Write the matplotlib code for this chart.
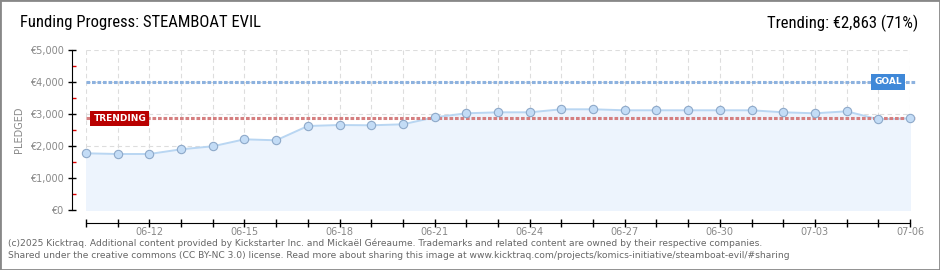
import matplotlib.pyplot as plt
import matplotlib.ticker as mticker
from matplotlib import font_manager
from matplotlib.patches import Rectangle
import pandas as pd

# eje x: un punto por dia
days = pd.date_range('2025-06-10', '2025-07-06', freq='D')
pledged = [1772, 1750, 1750, 1897, 1991, 2209, 2178, 2625, 2656, 2647,
           2678, 2897, 3022, 3053, 3053, 3147, 3147, 3116, 3116, 3116,
           3116, 3116, 3053, 3022, 3084, 2834, 2866]
goal = 4000
trending = 2863
y_ticks = [0, 1000, 2000, 3000, 4000, 5000]

# fuente estrecha para el titulo, si hay alguna
installed = {f.name for f in font_manager.fontManager.ttflist}
narrow = [n for n in ['Roboto Condensed', 'Liberation Sans Narrow', 'DejaVu Sans Condensed',
                      'Open Sans Condensed', 'Roboto'] if n in installed]
title_font = narrow[:1] + ['DejaVu Sans']

fig = plt.figure(figsize=(9.4, 2.7), dpi=100)
ax = fig.add_axes([86 / 940, 1 - 210 / 270, 824 / 940, 160 / 270])

x = list(range(len(days)))
ax.fill_between(x, pledged, 0, color='#edf4fd', zorder=1)
ax.plot(x, pledged, color='#b9d6f2', lw=1.4, zorder=3)
ax.plot(x, pledged, 'o', ms=6, mfc='#c3dcf6', mec='#8ea9c9', mew=0.8,
        zorder=5, clip_on=False)

# meta y tendencia
ax.plot([x[0], x[-1] + 0.15], [goal, goal], color='#8db2df', lw=2.2,
        ls=(0, (1.2, 0.6)), zorder=4, clip_on=False)
ax.plot([x[0], x[-1] + 0.15], [trending, trending], color='#d57f80', lw=2.2,
        ls=(0, (1.2, 0.6)), zorder=4, clip_on=False)
ax.text(1.07, trending, 'TRENDING', color='white', fontsize=6.5,
        fontweight='bold', ha='center', va='center', zorder=6,
        bbox=dict(boxstyle='square,pad=0.35', fc='#b90000', ec='none'))
ax.text(25.3, goal, 'GOAL', color='white', fontsize=6.5, fontweight='bold',
        ha='center', va='center', zorder=6,
        bbox=dict(boxstyle='square,pad=0.35', fc='#3f88d8', ec='none'))

ax.set_xlim(0, len(days) - 1)
ax.set_ylim(0, 5000)
ax.set_xticks(x)
ax.set_xticklabels([d.strftime('%m-%d') if i % 3 == 2 else ''
                    for i, d in enumerate(days)])
ax.set_yticks(y_ticks)
ax.yaxis.set_major_formatter(mticker.FuncFormatter(lambda v, p: '€{:,.0f}'.format(v)))
ax.yaxis.set_minor_locator(mticker.MultipleLocator(500))

ax.grid(True, color='#dddddd', ls=(0, (4, 3)), lw=0.8, zorder=0)
ax.set_axisbelow(True)

for s in ['top', 'right']:
    ax.spines[s].set_visible(False)
ax.spines['left'].set_position(('outward', 10))
ax.spines['bottom'].set_position(('outward', 9))

ax.tick_params(axis='x', direction='inout', length=6, width=1, labelsize=7,
               labelcolor='#888888', pad=0)
ax.tick_params(axis='y', which='major', direction='inout', length=6, width=1,
               labelsize=7, labelcolor='#888888', pad=3)
ax.tick_params(axis='y', which='minor', direction='in', length=3, width=1,
               color='#dd0000')

ax.set_ylabel('PLEDGED', fontsize=7, color='#888888', labelpad=4)

fig.text(20 / 940, 1 - 23 / 270, 'Funding Progress: STEAMBOAT EVIL',
         family=title_font, fontsize=12, va='center', ha='left')
fig.text(918 / 940, 1 - 23 / 270, 'Trending: €2,863 (71%)',
         family=title_font, fontsize=12, va='center', ha='right')

fig.text(8 / 940, 1 - 243 / 270,
         '(c)2025 Kicktraq. Additional content provided by Kickstarter Inc. and Mickaël Géreaume. '
         'Trademarks and related content are owned by their respective companies.',
         fontsize=6.6, color='#666666', va='center')
fig.text(8 / 940, 1 - 256 / 270,
         'Shared under the creative commons (CC BY-NC 3.0) license. Read more about sharing this image at '
         'www.kicktraq.com/projects/komics-initiative/steamboat-evil/#sharing',
         fontsize=6.6, color='#666666', va='center')

fig.patches.append(Rectangle((0, 0), 1, 1, transform=fig.transFigure,
                             fill=False, ec='#888888', lw=2))

fig.savefig('out.png', dpi=100)
